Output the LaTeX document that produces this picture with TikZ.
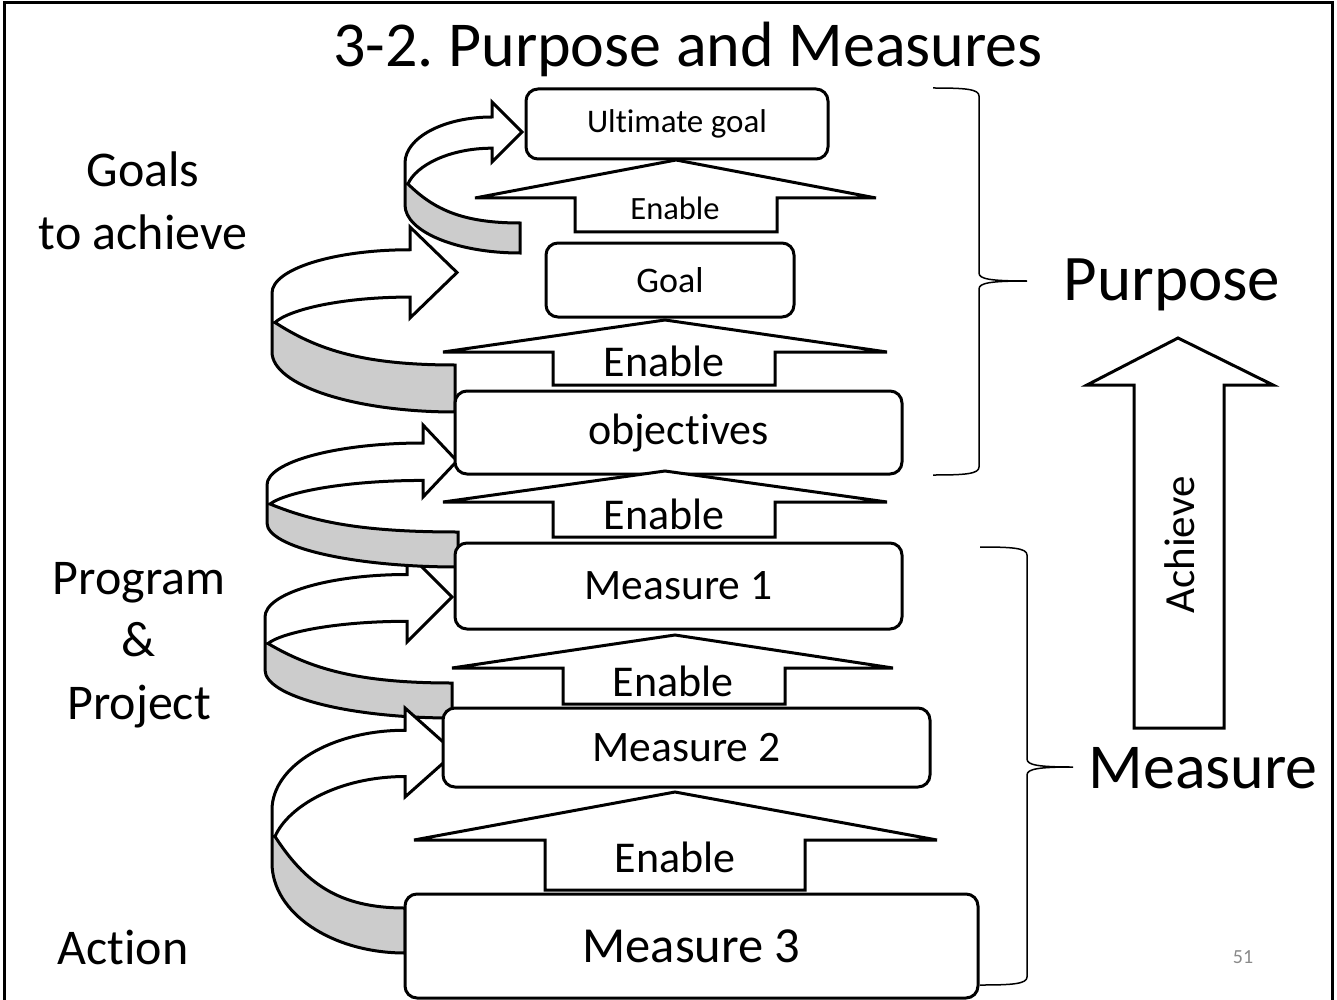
\documentclass[tikz,border=0pt]{standalone}
\usepackage{fontspec}
\setmainfont[Ligatures=NoCommon]{Carlito}
\frenchspacing
\definecolor{band}{gray}{0.8}
\definecolor{pgnum}{gray}{0.54}
\newcommand{\cvset}[2]{\def\cvlt{#1}\def\cvlb{#2}}
\newcommand{\curvarr}[8]{%
 \pgfmathsetmacro\cvw{#6-#5}%
 \pgfmathsetmacro\cvsa{#5+0.25*\cvw}%
 \pgfmathsetmacro\cvsb{#5+0.77*\cvw}%
 \pgfmathsetmacro\cvp{(#5+#6)/2}%
 \pgfmathsetmacro\cvc{(\cvlt+\cvlb)/2}%
 \pgfmathsetmacro\cvx{#1+3}%
 \pgfmathsetmacro\cvh{#3-#1}%
 \pgfmathsetmacro\cvt{#2-#1}%
 \fill[white] (#1,\cvlt) .. controls (#1,{\cvlt-0.552*(\cvlt-\cvsa)}) and ({#3-0.552*\cvh},\cvsa) .. (#3,\cvsa) -- (#3,#5) -- (#4,\cvp) -- (#3,#6) -- (#3,\cvsb) .. controls ({#3-0.5*\cvh},\cvsb) and ({#1+0.12*\cvh},{\cvc-0.5*(\cvc-\cvsb)}) .. (\cvx,\cvc) .. controls ({#1+0.25*\cvt},{\cvc+0.65*(#7-\cvc)}) and ({#2-0.5*\cvt},#7) .. (#2,#7) -- (#2,#8) .. controls ({#2-0.552*\cvt},#8) and (#1,{\cvlb+0.552*(#8-\cvlb)}) .. (#1,\cvlb) -- cycle;
 \fill[band] (\cvx,\cvc) .. controls ({#1+0.25*\cvt},{\cvc+0.65*(#7-\cvc)}) and ({#2-0.5*\cvt},#7) .. (#2,#7) -- (#2,#8) .. controls ({#2-0.552*\cvt},#8) and (#1,{\cvlb+0.552*(#8-\cvlb)}) .. (#1,\cvlb) -- (#1,\cvc) -- cycle;
 \draw[crv] (#1,\cvlt) .. controls (#1,{\cvlt-0.552*(\cvlt-\cvsa)}) and ({#3-0.552*\cvh},\cvsa) .. (#3,\cvsa) -- (#3,#5) -- (#4,\cvp) -- (#3,#6) -- (#3,\cvsb) .. controls ({#3-0.5*\cvh},\cvsb) and ({#1+0.12*\cvh},{\cvc-0.5*(\cvc-\cvsb)}) .. (\cvx,\cvc) .. controls ({#1+0.25*\cvt},{\cvc+0.65*(#7-\cvc)}) and ({#2-0.5*\cvt},#7) .. (#2,#7) -- (#2,#8) .. controls ({#2-0.552*\cvt},#8) and (#1,{\cvlb+0.552*(#8-\cvlb)}) .. (#1,\cvlb) -- cycle;
}
\newcommand{\blkup}[8]{%
 \draw[blk] (#1,#2) -- (#5,#3) -- (#7,#3) -- (#7,#8) -- (#6,#8) -- (#6,#3) -- (#4,#3) -- cycle;
}
\begin{document}
\begin{tikzpicture}[x=1pt,y=-1pt,
  box/.style={draw, line width=3pt, rounded corners=12pt, fill=white, inner sep=0pt},
  blk/.style={draw, line width=3pt, fill=white, line join=miter},
  crv/.style={draw, line width=3pt, line join=miter},
  brc/.style={draw, line width=1.5pt},
  lbl/.style={inner sep=0pt, font=\fontsize{50}{62.5}\selectfont, align=center},
  txt/.style={inner sep=0pt},
]
\useasboundingbox (0,0) rectangle (1337,1000);
% frame
\draw[line width=3pt] (4,1000) -- (4,3) -- (1332,3) -- (1332,1000);
% title
\node[txt, anchor=base, font=\fontsize{64}{70}\selectfont] (title) at (688,67) {3-2. Purpose and Measures};
% left labels
\node[lbl] (goals) at (143,201) {Goals\\to achieve};
\node[lbl] (prog) at (139,645) {Program\\\&\\Project};
\node[lbl] (action) at (123,947) {Action};
% braces
\draw[brc] (933,88) .. controls (965,88) and (979,89) .. (979,96) -- (979,273) .. controls (979,279) and (990,281) .. (1027,281)
  .. controls (990,281) and (979,283) .. (979,289) -- (979,467) .. controls (979,474) and (965,475) .. (933,475);
\draw[brc] (980,547) .. controls (1012,547) and (1027,548) .. (1027,555) -- (1027,759) .. controls (1027,765) and (1038,767) .. (1073,767)
  .. controls (1038,767) and (1027,769) .. (1027,775) -- (1027,977) .. controls (1027,984) and (1012,985) .. (980,985);
\node[txt, anchor=base, font=\fontsize{65}{70}\selectfont] (purpose) at (1172,300) {Purpose};
\node[txt, anchor=base, font=\fontsize{64}{70}\selectfont] (measure) at (1203,788) {Measure};
% achieve arrow
\draw[blk] (1178,338) -- (1273,385) -- (1224,385) -- (1224,728) -- (1134,728) -- (1134,385) -- (1087,385) -- cycle;
\node[txt, rotate=90, font=\fontsize{43}{48}\selectfont] (achieve) at (1180,545) {Achieve};
% page number
\node[txt, anchor=base, text=pgnum, font=\fontsize{20}{24}\selectfont] (pg) at (1243,963) {51};
% curved arrows
\cvset{163}{205}\curvarr{405}{520}{492}{522}{102}{162}{223}{253}
\cvset{293}{352}\curvarr{272}{455}{410}{457}{227}{318}{365}{412}
\cvset{617}{670}\curvarr{265}{452}{407}{452}{552}{642}{683}{718}
\cvset{485}{523}\curvarr{267}{458}{423}{457}{425}{497}{532}{567}
\cvset{810}{863}\curvarr{272}{405}{405}{455}{708}{797}{908}{953}
% boxes
\node[box, minimum width=302pt, minimum height=70pt, font=\fontsize{33}{36}\selectfont] (ug) at (677,124) {Ultimate goal};
\node[box, minimum width=248pt, minimum height=74pt, font=\fontsize{36}{40}\selectfont] (goal) at (670,280) {Goal};
\node[box, minimum width=447pt, minimum height=83pt, font=\fontsize{44}{48}\selectfont] (obj) at (678.5,432.5) {objectives};
\node[box, minimum width=447pt, minimum height=86pt, font=\fontsize{43.5}{48}\selectfont] (m1) at (678.5,586) {Measure 1};
\node[box, minimum width=487pt, minimum height=79pt, font=\fontsize{43.5}{48}\selectfont] (m2) at (686.5,747.5) {Measure 2};
\node[box, minimum width=573pt, minimum height=104pt, font=\fontsize{50.5}{56}\selectfont] (m3) at (691.5,946) {Measure 3};
% enable arrows
\blkup{676}{160}{198}{475}{876}{575}{777}{232}
\node[txt, font=\fontsize{32.5}{36}\selectfont] (en1) at (675,208) {Enable};
\blkup{665}{320}{352}{443}{887}{553}{775}{385}
\node[txt, font=\fontsize{44}{48}\selectfont] (en2) at (664,361) {Enable};
\blkup{665}{471}{502}{443}{887}{553}{775}{537}
\node[txt, font=\fontsize{44}{48}\selectfont] (en3) at (664,514) {Enable};
\blkup{675}{635}{668}{452}{893}{563}{785}{704}
\node[txt, font=\fontsize{44}{48}\selectfont] (en4) at (673,681) {Enable};
\blkup{675}{792}{840}{414}{937}{545}{805}{890}
\node[txt, font=\fontsize{44}{48}\selectfont] (en5) at (675,857) {Enable};
\end{tikzpicture}
\end{document}
